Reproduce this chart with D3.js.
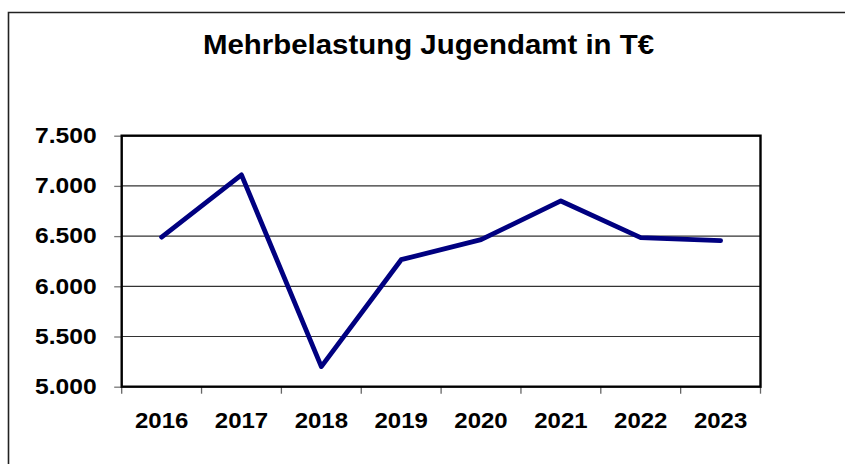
<!DOCTYPE html>
<html><head><meta charset="utf-8">
<script src="https://cdn.jsdelivr.net/npm/d3@7"></script>
<style>body{margin:0;background:#fff}svg{display:block}text{font-family:"Liberation Sans",Arial,sans-serif;font-weight:bold;fill:#000}</style>
</head><body>
<script>
const title = "Mehrbelastung Jugendamt in T€";
const years = ["2016","2017","2018","2019","2020","2021","2022","2023"];
const values = [6490, 7110, 5200, 6265, 6465, 6850, 6485, 6455];
const yTicks = [5000, 5500, 6000, 6500, 7000, 7500];

const W = 845, H = 464;
const svg = d3.select("body").append("svg").attr("width", W).attr("height", H);
svg.append("rect").attr("width", W).attr("height", H).attr("fill", "#fff");

// outer frame
svg.append("path").attr("d", `M8.5,${H+5}V12.5H${W+5}`).attr("fill","none").attr("stroke","#222").attr("stroke-width",1.6);

const L = 121.7, R = 760.5, T = 135.7, B = 386.7;
const x = d3.scaleBand().domain(years).range([L, R]);
const y = d3.scaleLinear().domain([5000, 7500]).range([B, T]);
const fmt = v => d3.format(",")(v).replace(/,/g, ".");

// title
svg.append("text").attr("transform", `translate(428.5,53.5) scale(1.07,1)`)
  .attr("text-anchor","middle").attr("font-size", 27.5).text(title);

// gridlines
svg.append("g").selectAll("line").data(yTicks.filter(d => d > 5000 && d < 7500)).join("line")
  .attr("x1", L).attr("x2", R).attr("y1", d => y(d)).attr("y2", d => y(d))
  .attr("stroke", "#333").attr("stroke-width", 1.2);

// y axis
const yAxis = svg.append("g").attr("transform", `translate(${L},0)`)
  .call(d3.axisLeft(y).tickValues(yTicks).tickSize(7.5).tickFormat(""));
yAxis.select(".domain").remove();
yAxis.selectAll(".tick line").attr("stroke", "#777").attr("stroke-width", 1.3);
svg.append("g").selectAll("text").data(yTicks).join("text")
  .attr("transform", d => `translate(96.7,${y(d) + 7.2}) scale(1.12,1)`)
  .attr("text-anchor","end").attr("font-size", 22).text(fmt);

// x axis
const xAxis = svg.append("g").attr("transform", `translate(0,${B})`)
  .call(d3.axisBottom(x).tickSize(0).tickFormat(""));
xAxis.select(".domain").remove();
const xBounds = years.map(d => x(d)).concat([R]);
svg.append("g").selectAll("line").data(xBounds).join("line")
  .attr("x1", d => d).attr("x2", d => d).attr("y1", B).attr("y2", B + 7)
  .attr("stroke", "#666").attr("stroke-width", 1.3);
svg.append("g").selectAll("text").data(years).join("text")
  .attr("transform", d => `translate(${x(d) + x.bandwidth()/2},427.5) scale(1.09,1)`)
  .attr("text-anchor","middle").attr("font-size", 22).text(d => d);

// plot frame
svg.append("rect").attr("x", L).attr("y", T).attr("width", R - L).attr("height", B - T)
  .attr("fill","none").attr("stroke","#000").attr("stroke-width",2.4);

// line
const line = d3.line().x((d,i) => x(years[i]) + x.bandwidth()/2).y(d => y(d));
svg.append("path").datum(values).attr("d", line)
  .attr("fill","none").attr("stroke","#000080").attr("stroke-width",4.8)
  .attr("stroke-linejoin","round").attr("stroke-linecap","round");
</script>
</body></html>
